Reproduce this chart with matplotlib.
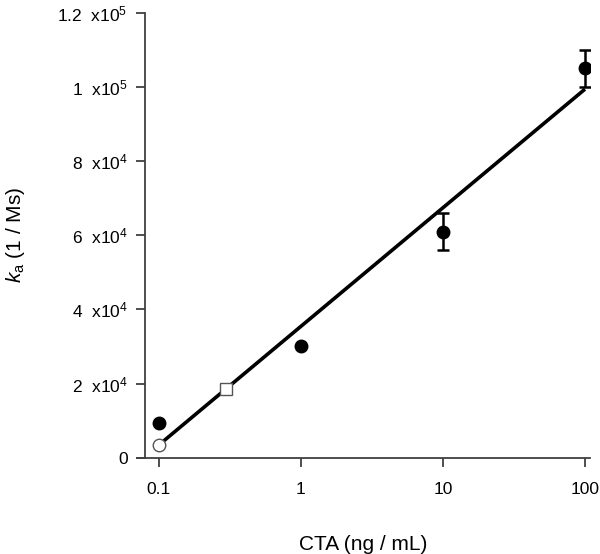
import matplotlib.pyplot as plt

plt.rcParams['font.family'] = ['Liberation Sans', 'DejaVu Sans']
plt.rcParams['mathtext.fontset'] = 'custom'
plt.rcParams['mathtext.rm'] = 'Liberation Sans'
plt.rcParams['mathtext.it'] = 'Liberation Sans:italic'

# data
filled_x = [0.1, 1, 10, 100]
filled_y = [9300, 30000, 61000, 105000]
filled_err = [0, 0, 5000, 5000]
open_circle_x = [0.1]
open_circle_y = [3400]
open_square_x = [0.3]
open_square_y = [18600]
fit_x = [0.1, 100]
fit_y = [3400, 99400]

yticks = [0, 20000, 40000, 60000, 80000, 100000, 120000]
ytick_labels = ['0', '2  x10$^{4}$', '4  x10$^{4}$', '6  x10$^{4}$', '8  x10$^{4}$',
                '1  x10$^{5}$', '1.2  x10$^{5}$']
xticks = [0.1, 1, 10, 100]
xtick_labels = ['0.1', '1', '10', '100']

axis_col = '#404040'

fig = plt.figure(figsize=(6, 5.54), dpi=100)
ax = fig.add_axes([0.2278, 0.1738, 0.7555, 0.8032])

ax.plot(fit_x, fit_y, color='black', lw=2.6, solid_capstyle='butt', zorder=2)
ax.errorbar(filled_x, filled_y, yerr=filled_err, fmt='o', color='black',
            ms=9, elinewidth=1.8, capsize=4, capthick=1.8, zorder=3)
ax.plot(open_circle_x, open_circle_y, 'o', ms=9, mfc='white', mec='#555555',
        mew=1.0, zorder=4)
ax.plot(open_square_x, open_square_y, 's', ms=9, mfc='white', mec='#555555',
        mew=1.0, zorder=4)

ax.set_xscale('log')
ax.set_xlim(0.07, 108.4)
ax.set_ylim(0, 120000)

for s in ['top', 'right']:
    ax.spines[s].set_visible(False)
ax.spines['left'].set_position(('data', 0.0801))
ax.spines['left'].set_bounds(0, 120000)
for s in ['left', 'bottom']:
    ax.spines[s].set_color(axis_col)
    ax.spines[s].set_linewidth(1.3)

ax.set_xticks(xticks)
ax.set_xticklabels(xtick_labels)
ax.xaxis.set_minor_locator(plt.NullLocator())
ax.set_yticks(yticks)
ax.set_yticklabels(ytick_labels)
ax.tick_params(axis='both', direction='out', length=6.5, width=1.3, color=axis_col,
               labelsize=12.5, labelcolor='black')
ax.tick_params(axis='x', pad=11)
ax.tick_params(axis='y', pad=6)

ax.set_xlabel('CTA (ng / mL)', fontsize=15, labelpad=27)
ax.set_ylabel(r'$k_{\mathrm{a}}$ (1 / Ms)', fontsize=15, labelpad=22)

fig.savefig('out.png', dpi=100)
